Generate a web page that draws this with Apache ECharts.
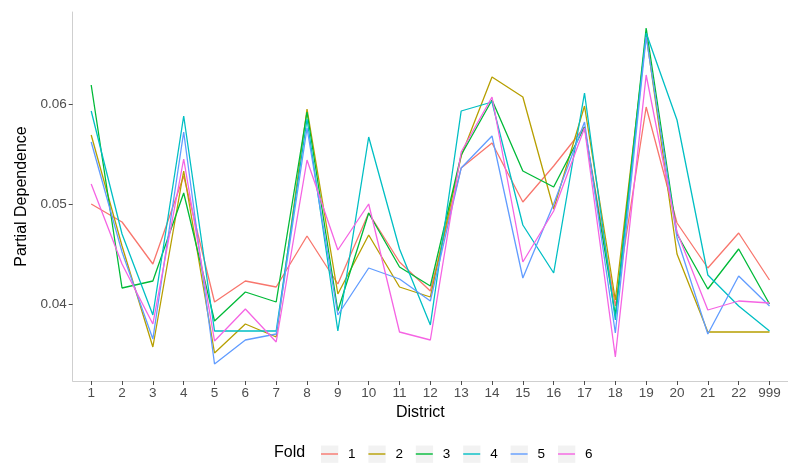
<!DOCTYPE html>
<html>
<head>
<meta charset="utf-8">
<script src="https://cdn.jsdelivr.net/npm/echarts@6/dist/echarts.min.js"></script>
<style>
html,body{margin:0;padding:0;background:#fff;}
#chart{width:788px;height:464px;}
</style>
</head>
<body>
<div id="chart"></div>
<script>
const districts = ['1','2','3','4','5','6','7','8','9','10','11','12','13','14','15','16','17','18','19','20','21','22','999'];
const foldNames = ['1','2','3','4','5','6'];
const foldColors = ['#F8766D','#B79F00','#00BA38','#00BFC4','#619CFF','#F564E3'];
const yTicks = [0.04, 0.05, 0.06];

const fold1 = [0.0500,0.0482,0.0440,0.0528,0.0402,0.0423,0.0417,0.0468,0.0420,0.0491,0.0442,0.0413,0.0536,0.0561,0.0502,0.0538,0.0577,0.0398,0.0597,0.0481,0.0436,0.0471,0.0424];
const fold2 = [0.0569,0.0458,0.0357,0.0533,0.0351,0.0380,0.0367,0.0595,0.0410,0.0469,0.0417,0.0407,0.0548,0.0627,0.0607,0.0495,0.0598,0.0404,0.0669,0.0450,0.0372,0.0372,0.0372];
const fold3 = [0.0619,0.0416,0.0423,0.0511,0.0383,0.0412,0.0402,0.0592,0.0393,0.0491,0.0437,0.0418,0.0549,0.0604,0.0533,0.0517,0.0577,0.0389,0.0676,0.0470,0.0415,0.0455,0.0400];
const fold4 = [0.0593,0.0470,0.0389,0.0588,0.0373,0.0373,0.0373,0.0585,0.0373,0.0567,0.0455,0.0379,0.0593,0.0602,0.0479,0.0431,0.0611,0.0384,0.0671,0.0584,0.0429,0.0398,0.0373];
const fold5 = [0.0562,0.0452,0.0365,0.0572,0.0340,0.0364,0.0370,0.0576,0.0389,0.0436,0.0425,0.0403,0.0536,0.0568,0.0426,0.0500,0.0582,0.0371,0.0667,0.0466,0.0370,0.0428,0.0398];
const fold6 = [0.0520,0.0440,0.0380,0.0545,0.0363,0.0395,0.0362,0.0544,0.0454,0.0500,0.0372,0.0364,0.0552,0.0607,0.0442,0.0493,0.0576,0.0347,0.0629,0.0472,0.0394,0.0403,0.0401];

const folds = [fold1, fold2, fold3, fold4, fold5, fold6];
const FONT = '"Liberation Sans", Arial, sans-serif';
const idx = districts.map((d, i) => i);

const chart = echarts.init(document.getElementById('chart'), null, {renderer: 'canvas'});

const legendLeft0 = 321, legendStep = 47.4, legendTop = 445.5;

const option = {
  animation: false,
  backgroundColor: '#fff',
  grid: {left: 72.7, right: -9.1, top: 12, bottom: 83, containLabel: false},
  xAxis: {
    type: 'value',
    min: -0.6,
    max: 22.6,
    splitLine: {show: false},
    axisLine: {show: true, onZero: false, lineStyle: {color: '#cfcfcf', width: 1}},
    axisTick: {show: true, customValues: idx, length: 4, lineStyle: {color: '#4d4d4d', width: 1}},
    axisLabel: {show: true, customValues: idx, formatter: v => districts[Math.round(v)], color: '#4d4d4d', fontSize: 13.5, fontFamily: FONT, margin: 5},
    name: 'District',
    nameLocation: 'middle',
    nameGap: 24,
    nameTextStyle: {color: '#000', fontSize: 16, fontFamily: FONT, padding: [0, 20, 0, 0]}
  },
  yAxis: {
    type: 'value',
    min: 0.0323,
    max: 0.0692,
    splitLine: {show: false},
    axisLine: {show: true, onZero: false, lineStyle: {color: '#cfcfcf', width: 1}},
    axisTick: {show: true, customValues: yTicks, length: 4, lineStyle: {color: '#4d4d4d', width: 1}},
    axisLabel: {show: true, customValues: yTicks, formatter: v => v.toFixed(2), color: '#4d4d4d', fontSize: 13.5, fontFamily: FONT, margin: 6},
    name: 'Partial Dependence',
    nameLocation: 'middle',
    nameGap: 42,
    nameRotate: 90,
    nameTextStyle: {color: '#000', fontSize: 16, fontFamily: FONT}
  },
  legend: foldNames.map((n, i) => ({
    data: [n],
    left: legendLeft0 + i * legendStep,
    top: legendTop,
    orient: 'horizontal',
    icon: 'rect',
    itemWidth: 17,
    itemHeight: 1.4,
    itemGap: 0,
    padding: 0,
    selectedMode: false,
    textStyle: {color: '#000', fontSize: 13.5, fontFamily: FONT, padding: [0, 0, 0, 5], lineHeight: 17, height: 17, verticalAlign: 'middle'}
  })),
  graphic: [
    {type: 'text', left: 274, top: 445, style: {text: 'Fold', fill: '#000', font: '16px ' + FONT}, z: 10}
  ].concat(foldNames.map((n, i) => ({
    type: 'rect', silent: true, z: -1,
    shape: {x: legendLeft0 + i * legendStep, y: legendTop, width: 17.3, height: 17.3},
    style: {fill: '#f2f2f2'}
  }))),
  series: folds.map((f, i) => ({
    name: foldNames[i],
    type: 'line',
    data: f.map((v, j) => [idx[j], v]),
    showSymbol: false,
    symbol: 'none',
    lineStyle: {color: foldColors[i], width: 1.3},
    itemStyle: {color: foldColors[i]},
    z: 2 + i,
    clip: true
  }))
};
chart.setOption(option);
</script>
</body>
</html>
